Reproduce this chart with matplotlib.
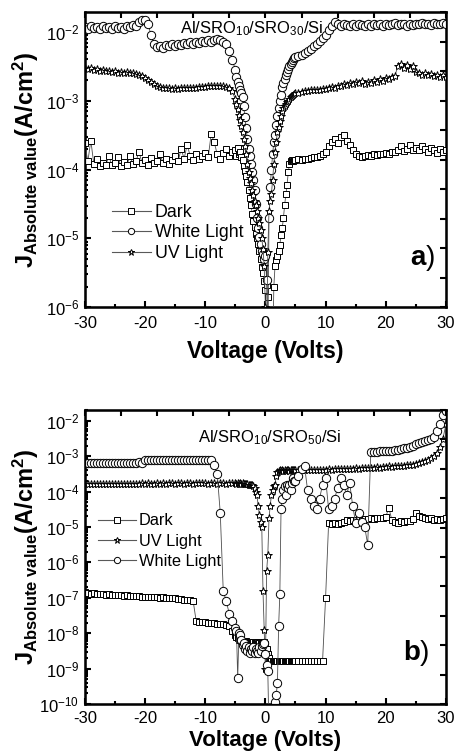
import numpy as np
import matplotlib.pyplot as plt
from matplotlib.lines import Line2D
from matplotlib.ticker import LogLocator, NullFormatter, MultipleLocator

plt.rcParams["font.family"] = ["Liberation Sans", "DejaVu Sans"]
plt.rcParams["mathtext.fontset"] = "custom"
plt.rcParams["mathtext.rm"] = "Liberation Sans"
plt.rcParams["mathtext.it"] = "Liberation Sans"
plt.rcParams["mathtext.sf"] = "Liberation Sans"
plt.rcParams["mathtext.bf"] = "Liberation Sans:bold"
plt.rcParams["axes.unicode_minus"] = False

# voltage sweep: 0.5 V steps, 0.2 V steps between -5 and 5 V
voltage = np.concatenate([
    np.arange(-30.0, -5.25, 0.5),
    np.arange(-5.0, 4.9, 0.2),
    np.arange(5.0, 30.25, 0.5),
])

# ---- panel a) Al/SRO10/SRO30/Si, log10 of |J| (A/cm^2) ----
top_dark_log = [
    # -30 .. -5.5
    -3.62, -3.88, -3.58, -3.92, -3.85, -3.95, -3.90, -3.93, -3.80, -3.94,
    -3.91, -3.82, -3.95, -3.89, -3.93, -3.80, -3.92, -3.88, -3.74, -3.90,
    -3.86, -3.93, -3.83, -3.91, -3.87, -3.78, -3.90, -3.85, -3.92, -3.86,
    -3.80, -3.88, -3.70, -3.84, -3.64, -3.80, -3.86, -3.78, -3.84, -3.80,
    -3.76, -3.82, -3.48, -3.60, -3.78, -3.84, -3.76, -3.70, -3.80, -3.74,
    # -5.0 .. 4.8
    -3.72, -3.80, -3.68, -3.78, -3.74, -3.82, -3.86, -3.95, -4.02, -4.10,
    -4.18, -4.30, -4.41, -4.52, -4.64, -4.74, -4.84, -4.93, -4.99, -5.08,
    -5.18, -5.30, -5.42, -5.50, -5.62, -5.75, -5.67, -5.85, -6.80, -6.80,
    -6.80, -6.80, -5.70, -5.40, -5.32, -5.26, -5.18, -5.09, -4.95, -4.85,
    -4.70, -4.51, -4.36, -4.22, -4.04, -3.92, -3.87, -3.86, -3.87, -3.86,
    # 5.0 .. 30.0
    -3.86, -3.85, -3.86, -3.84, -3.85, -3.83, -3.82, -3.81, -3.80, -3.78,
    -3.74, -3.66, -3.60, -3.56, -3.62, -3.52, -3.50, -3.58, -3.64, -3.72,
    -3.78, -3.80, -3.81, -3.80, -3.79, -3.80, -3.78, -3.79, -3.77, -3.78,
    -3.76, -3.77, -3.74, -3.75, -3.72, -3.66, -3.73, -3.70, -3.64, -3.71,
    -3.68, -3.72, -3.66, -3.70, -3.74, -3.68, -3.72, -3.76, -3.70, -3.74, -3.72,
]
top_white_log = [
    -1.93, -1.95, -1.92, -1.94, -1.93, -1.96, -1.92, -1.94, -1.93, -1.95,
    -1.92, -1.94, -1.93, -1.95, -1.91, -1.93, -1.90, -1.92, -1.86, -1.83,
    -1.82, -1.88, -2.05, -2.18, -2.22, -2.20, -2.23, -2.19, -2.21, -2.18,
    -2.20, -2.17, -2.19, -2.16, -2.18, -2.15, -2.17, -2.14, -2.16, -2.13,
    -2.15, -2.12, -2.14, -2.11, -2.10, -2.12, -2.14, -2.18, -2.27, -2.40,
    -2.55, -2.66, -2.72, -2.78, -2.84, -2.89, -2.95, -3.08, -3.24, -3.40,
    -3.56, -3.70, -3.80, -3.92, -4.03, -4.15, -4.30, -4.50, -4.70, -4.85,
    -4.98, -5.08, -5.18, -5.22, -5.30, -5.25, -5.60, -6.50, -4.70, -4.25,
    -4.00, -3.78, -3.60, -3.50, -3.35, -3.22, -3.10, -3.00, -2.92, -2.80,
    -2.74, -2.68, -2.62, -2.58, -2.54, -2.50, -2.47, -2.43, -2.40, -2.38,
    -2.37, -2.35, -2.33, -2.30, -2.27, -2.24, -2.21, -2.17, -2.13, -2.09,
    -2.05, -1.97, -1.91, -1.86, -1.89, -1.91, -1.88, -1.90, -1.92, -1.89,
    -1.91, -1.88, -1.90, -1.92, -1.89, -1.91, -1.88, -1.90, -1.89, -1.91,
    -1.88, -1.90, -1.89, -1.87, -1.90, -1.88, -1.89, -1.91, -1.88, -1.90,
    -1.88, -1.89, -1.87, -1.89, -1.88, -1.90, -1.87, -1.89, -1.88, -1.87, -1.88,
]
top_uv_log = [
    -2.52, -2.54, -2.53, -2.55, -2.54, -2.56, -2.55, -2.57, -2.56, -2.58,
    -2.57, -2.59, -2.58, -2.59, -2.58, -2.60, -2.59, -2.61, -2.62, -2.64,
    -2.67, -2.70, -2.73, -2.76, -2.78, -2.80, -2.81, -2.82, -2.82, -2.83,
    -2.82, -2.83, -2.82, -2.82, -2.81, -2.82, -2.81, -2.81, -2.80, -2.80,
    -2.80, -2.79, -2.79, -2.79, -2.79, -2.79, -2.79, -2.80, -2.82, -2.86,
    -2.98, -3.05, -3.12, -3.20, -3.28, -3.36, -3.46, -3.56, -3.66, -3.78,
    -3.92, -4.03, -4.12, -4.20, -4.29, -4.37, -4.45, -4.52, -4.60, -4.70,
    -4.78, -4.88, -5.00, -5.15, -5.40, -6.00, -6.60, -5.20, -4.60, -4.45,
    -4.35, -4.15, -3.92, -3.74, -3.60, -3.45, -3.38, -3.30, -3.22, -3.15,
    -3.11, -3.08, -3.05, -3.02, -3.00, -2.97, -2.95, -2.93, -2.92, -2.90,
    -2.89, -2.88, -2.87, -2.86, -2.86, -2.85, -2.85, -2.84, -2.84, -2.83,
    -2.83, -2.82, -2.80, -2.81, -2.78, -2.79, -2.76, -2.77, -2.74, -2.76,
    -2.72, -2.74, -2.71, -2.75, -2.72, -2.74, -2.70, -2.72, -2.68, -2.71,
    -2.67, -2.69, -2.65, -2.64, -2.50, -2.47, -2.52, -2.48, -2.54, -2.50,
    -2.58, -2.60, -2.62, -2.60, -2.63, -2.61, -2.64, -2.62, -2.65, -2.63, -2.66,
]

# ---- panel b) Al/SRO10/SRO50/Si ----
bot_dark_log = [
    -6.85, -6.87, -6.88, -6.87, -6.89, -6.90, -6.89, -6.91, -6.90, -6.92,
    -6.92, -6.93, -6.92, -6.94, -6.93, -6.95, -6.94, -6.96, -6.95, -6.97,
    -6.97, -6.98, -6.97, -6.99, -6.98, -7.00, -6.99, -7.01, -7.00, -7.02,
    -7.02, -7.03, -7.04, -7.05, -7.06, -7.07, -7.09, -7.66, -7.67, -7.68,
    -7.69, -7.70, -7.71, -7.72, -7.73, -7.74, -7.75, -7.76, -7.80, -7.95,
    -8.05, -8.10, -8.15, -8.18, -8.20, -8.21, -8.22, -8.22, -8.23, -8.23,
    -8.24, -8.24, -8.24, -8.25, -8.25, -8.25, -8.26, -8.26, -8.26, -8.27,
    -8.27, -8.27, -8.27, -8.26, -8.25, -8.30, -8.45, -8.60, -8.70, -8.78,
    -8.78, -8.78, -8.78, -8.78, -8.78, -8.78, -8.78, -8.78, -8.78, -8.78,
    -8.78, -8.78, -8.78, -8.78, -8.78, -8.78, -8.78, -8.78, -8.78, -8.78,
    -8.78, -8.78, -8.78, -8.78, -8.78, -8.78, -8.78, -8.78, -8.78, -8.78,
    -7.00, -4.90, -4.92, -4.89, -4.91, -4.88, -4.86, -4.80, -4.82, -4.79,
    -4.80, -4.78, -4.79, -4.77, -4.78, -4.76, -4.77, -4.75, -4.76, -4.74,
    -4.72, -4.45, -4.80, -4.85, -4.88, -4.84, -4.86, -4.82, -4.84, -4.78,
    -4.60, -4.70, -4.72, -4.75, -4.78, -4.76, -4.79, -4.77, -4.80, -4.78, -4.76,
]
bot_uv_log = [
    -3.78, -3.79, -3.78, -3.78, -3.79, -3.78, -3.78, -3.79, -3.78, -3.78,
    -3.79, -3.78, -3.78, -3.79, -3.78, -3.78, -3.79, -3.78, -3.78, -3.77,
    -3.78, -3.77, -3.78, -3.78, -3.77, -3.78, -3.77, -3.78, -3.77, -3.77,
    -3.78, -3.77, -3.77, -3.78, -3.77, -3.77, -3.78, -3.77, -3.77, -3.77,
    -3.77, -3.78, -3.77, -3.77, -3.78, -3.77, -3.77, -3.78, -3.77, -3.77,
    -3.77, -3.78, -3.77, -3.78, -3.77, -3.78, -3.77, -3.78, -3.78, -3.79,
    -3.79, -3.80, -3.80, -3.81, -3.82, -3.84, -3.90, -4.00, -4.10, -4.40,
    -4.65, -4.85, -5.00, -6.80, -7.90, -9.00, -6.25, -5.80, -4.75, -4.40,
    -4.10, -3.95, -3.85, -3.80, -3.55, -3.45, -3.42, -3.40, -3.41, -3.40,
    -3.41, -3.40, -3.41, -3.40, -3.40, -3.41, -3.40, -3.40, -3.39, -3.40,
    -3.40, -3.40, -3.39, -3.40, -3.39, -3.39, -3.38, -3.39, -3.38, -3.38,
    -3.38, -3.37, -3.38, -3.37, -3.36, -3.37, -3.36, -3.35, -3.36, -3.35,
    -3.34, -3.35, -3.33, -3.34, -3.33, -3.32, -3.33, -3.31, -3.32, -3.30,
    -3.31, -3.29, -3.30, -3.28, -3.29, -3.27, -3.28, -3.26, -3.25, -3.24,
    -3.22, -3.20, -3.17, -3.14, -3.10, -3.05, -3.00, -2.90, -2.75, -2.50, -2.10,
]
bot_white_log = [
    -3.19, -3.20, -3.19, -3.18, -3.19, -3.20, -3.19, -3.18, -3.19, -3.19,
    -3.18, -3.19, -3.18, -3.19, -3.18, -3.18, -3.19, -3.18, -3.17, -3.18,
    -3.12, -3.11, -3.12, -3.11, -3.12, -3.11, -3.11, -3.12, -3.11, -3.12,
    -3.11, -3.12, -3.11, -3.11, -3.12, -3.11, -3.11, -3.10, -3.11, -3.10,
    -3.10, -3.11, -3.12, -3.25, -3.50, -4.60, -6.81, -7.10, -7.45, -7.65,
    -7.85, -7.95, -9.27, -8.00, -8.05, -8.20, -8.33, -8.28, -8.45, -8.35,
    -8.50, -8.40, -8.55, -8.45, -8.50, -8.40, -8.55, -8.45, -8.50, -8.55,
    -8.40, -8.50, -8.35, -8.30, -8.27, -8.60, -8.90, -9.07, -10.8, -10.8,
    -10.8, -10.8, -10.5, -9.95, -9.75, -9.40, -7.80, -6.90, -4.50, -4.20,
    -3.95, -3.85, -4.10, -3.80, -3.90, -3.81, -3.95, -3.75, -3.62, -3.70,
    -3.70, -3.55, -3.35, -3.27, -3.95, -4.20, -4.40, -4.50, -4.20, -3.80,
    -3.62, -4.50, -4.40, -4.20, -3.90, -3.62, -3.80, -4.10, -3.75, -4.40,
    -4.89, -4.60, -4.85, -5.00, -5.50, -2.88, -2.87, -2.87, -2.86, -2.86,
    -2.85, -2.85, -2.84, -2.83, -2.82, -2.80, -2.78, -2.76, -2.73, -2.70,
    -2.66, -2.62, -2.60, -2.57, -2.53, -2.50, -2.45, -2.30, -2.10, -1.85, -1.72,
]

x_ticks = [-30, -20, -10, 0, 10, 20, 30]

styles = {
    "Dark": dict(marker="s", ms=5.0),
    "White Light": dict(marker="o", ms=6.0),
    "UV Light": dict(marker="*", ms=6.0),
}


def style_axes(ax, ylim, xpad):
    ax.set_yscale("log")
    ax.set_xlim(-30, 30)
    ax.set_ylim(*ylim)
    ax.set_xticks(x_ticks)
    ax.xaxis.set_minor_locator(MultipleLocator(5))
    ax.yaxis.set_major_locator(LogLocator(base=10, numticks=20))
    ax.yaxis.set_minor_locator(LogLocator(base=10, subs=np.arange(2, 10), numticks=100))
    ax.yaxis.set_minor_formatter(NullFormatter())
    ax.tick_params(which="both", direction="in", width=1.5, labelsize=12)
    ax.tick_params(which="major", length=4)
    ax.tick_params(which="minor", length=2.5)
    ax.tick_params(axis="x", pad=xpad)
    ax.tick_params(axis="y", pad=4)
    for sp in ax.spines.values():
        sp.set_linewidth(1.8)

    # top and right axes with 10 equal divisions (no labels)
    axt = ax.twiny()
    axt.set_xlim(0, 10)
    axt.set_xticks(range(11))
    axt.tick_params(direction="in", length=4, width=1.5, labeltop=False)
    axr = ax.twinx()
    axr.set_ylim(0, 10)
    axr.set_yticks(range(11))
    axr.tick_params(direction="in", length=4, width=1.5, labelright=False)


def plot_series(ax, name, values):
    st = styles[name]
    ax.plot(voltage, 10.0 ** np.array(values), color="0.3", lw=0.6,
            marker=st["marker"], ms=st["ms"], mfc="white", mec="black",
            mew=0.7, label=name, zorder=3)


def legend_handle(name):
    st = styles[name]
    return Line2D([], [], color="0.35", lw=0.8, marker=st["marker"],
                  ms=st["ms"] * 0.75, mfc="white", mec="black", mew=0.7)


fig = plt.figure(figsize=(4.56, 7.53), dpi=100)
ax1 = fig.add_axes([0.186, 0.592, 0.792, 0.392])
ax2 = fig.add_axes([0.186, 0.0651, 0.792, 0.3904])

ylabel = (r"$\mathbf{J}_{\mathbf{Absolute\ value}}"
          r"\mathbf{(A/cm}^{\mathbf{2}}\mathbf{)}$")

# panel a
plot_series(ax1, "Dark", top_dark_log)
plot_series(ax1, "White Light", top_white_log)
plot_series(ax1, "UV Light", top_uv_log)
ax1.set_xlabel("Voltage (Volts)", fontsize=16.5, fontweight="bold")
ax1.set_ylabel(ylabel, fontsize=17)
ax1.xaxis.set_label_coords(0.5, -0.11)
ax1.yaxis.set_label_coords(-0.12, 0.5)
names_a = ["Dark", "White Light", "UV Light"]
ax1.legend([legend_handle(n) for n in names_a], names_a, loc="upper left",
           bbox_to_anchor=(0.075, 0.35), frameon=False, fontsize=12.8,
           handlelength=2.2, handletextpad=0.2, labelspacing=0.2,
           borderpad=0, borderaxespad=0)
ax1.text(0.263, 0.929, r"Al/SRO$_{10}$/SRO$_{30}$/Si", transform=ax1.transAxes,
         fontsize=12, va="baseline")
ax1.text(0.9, 0.142, r"$\mathbf{a}$)", transform=ax1.transAxes,
         fontsize=20, va="baseline")
style_axes(ax1, (1e-6, 10 ** -1.71), 6)

# panel b
plot_series(ax2, "Dark", bot_dark_log)
plot_series(ax2, "UV Light", bot_uv_log)
plot_series(ax2, "White Light", bot_white_log)
ax2.set_xlabel("Voltage (Volts)", fontsize=16, fontweight="bold")
ax2.set_ylabel(ylabel, fontsize=17)
ax2.xaxis.set_label_coords(0.5, -0.089)
ax2.yaxis.set_label_coords(-0.12, 0.5)
names_b = ["Dark", "UV Light", "White Light"]
ax2.legend([legend_handle(n) for n in names_b], names_b, loc="upper left",
           bbox_to_anchor=(0.036, 0.648), frameon=False, fontsize=11.8,
           handlelength=2.3, handletextpad=0.2, labelspacing=0.32,
           borderpad=0, borderaxespad=0)
ax2.text(0.313, 0.89, r"Al/SRO$_{10}$/SRO$_{50}$/Si", transform=ax2.transAxes,
         fontsize=12, va="baseline")
ax2.text(0.881, 0.15, r"$\mathbf{b}$)", transform=ax2.transAxes,
         fontsize=20, va="baseline")
style_axes(ax2, (1e-10, 10 ** -1.695), 5)

fig.savefig("out.png", dpi=100)
plt.close(fig)
